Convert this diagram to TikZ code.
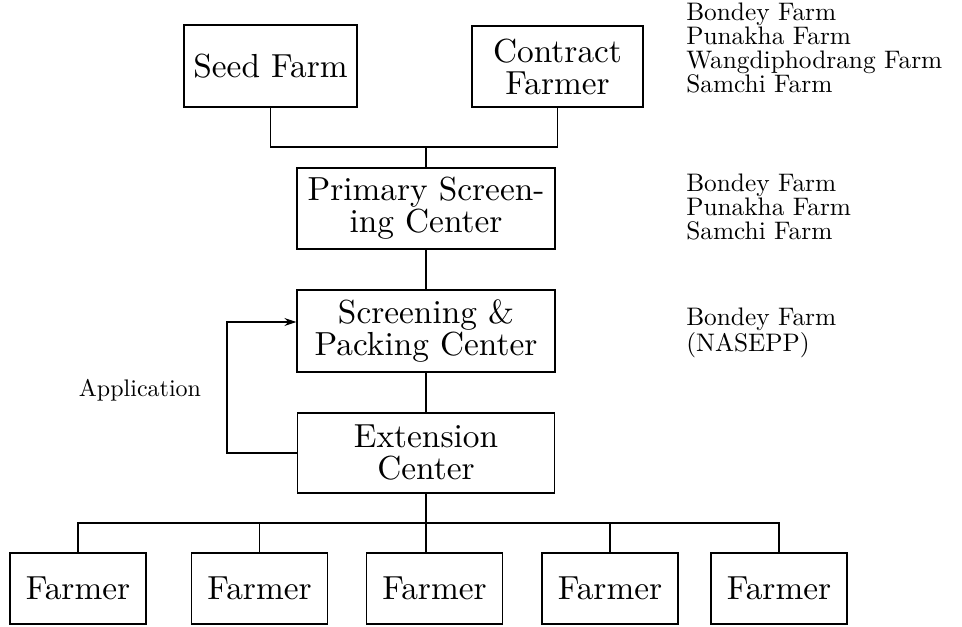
\documentclass[tikz,border=0pt]{standalone}
\usepackage{fontspec}
\setmainfont{lmroman10-regular.otf}
\usepackage{tikz}
\usetikzlibrary{arrows.meta}

\begin{document}
\begin{tikzpicture}[x=0.75pt,y=0.75pt,yscale=-1,xscale=1,
    unitbox/.style={draw, line width=1pt, inner sep=0pt, align=center,
        font=\fontsize{25}{24}\selectfont},
    farmbox/.style={unitbox, minimum width=0.75*136, minimum height=0.75*71},
    sitelist/.style={anchor=west, align=left, inner sep=0pt,
        font=\fontsize{19}{18}\selectfont},
    wire/.style={line width=0.9pt}]
    \useasboundingbox (0,0) rectangle (962,627);

    % Text Node
    \node [unitbox, minimum width=0.75*173, minimum height=0.75*82] (seed) at (270.5,66) {Seed Farm};
    % Text Node
    \node [unitbox, minimum width=0.75*171, minimum height=0.75*81] (contract) at (557.5,66.5) {Contract\\Farmer};
    % Text Node
    \node [unitbox, minimum width=0.75*258, minimum height=0.75*81] (primary) at (426,208.5) {Primary Screen-\\ing Center};
    % Text Node
    \node [unitbox, minimum width=0.75*258, minimum height=0.75*82] (packing) at (426,331) {Screening \&\\Packing Center};
    % Text Node
    \node [unitbox, minimum width=0.75*257, minimum height=0.75*80] (extension) at (426,453) {Extension\\Center};

    % Farmer row
    \foreach \fx [count=\i] in {78,259.5,434.5,610,779}
        \node [farmbox] (farmer\i) at (\fx,588.5) {Farmer};

    % Site lists
    \node [sitelist] (sites1) at (686,48) {Bondey Farm\\Punakha Farm\\Wangdiphodrang Farm\\Samchi Farm};
    \node [sitelist] (sites2) at (686,207) {Bondey Farm\\Punakha Farm\\Samchi Farm};
    \node [sitelist] (sites3) at (686,333) {Bondey Farm\\(NASEPP)};
    \node [sitelist, anchor=center, font=\fontsize{18}{18}\selectfont] (applabel) at (140,390) {Application};

    %Straight Lines
    \coordinate (topbus) at (426,147);
    \draw [wire] (seed.south) |- (topbus) -| (contract.south);
    \draw [wire] (topbus) -- (primary.north);
    \draw [wire] (primary.south) -- (packing.north);
    \draw [wire] (packing.south) -- (extension.north);

    \coordinate (lowbus) at (426,523);
    \draw [wire] (extension.south) -- (extension.south |- farmer3.north);
    \draw [wire] (farmer1.north) |- (lowbus) -| (farmer5.north);
    \draw [wire] (farmer2.north) -- (farmer2.north |- lowbus);
    \draw [wire] (farmer4.north) -- (farmer4.north |- lowbus);

    % Application loop
    \coordinate (loopleft) at (227,322);
    \draw [wire, -{Stealth[length=9pt,width=6pt]}] (extension.west) -| (loopleft) -- ([yshift=-6.75pt]packing.west);

\end{tikzpicture}
\end{document}
